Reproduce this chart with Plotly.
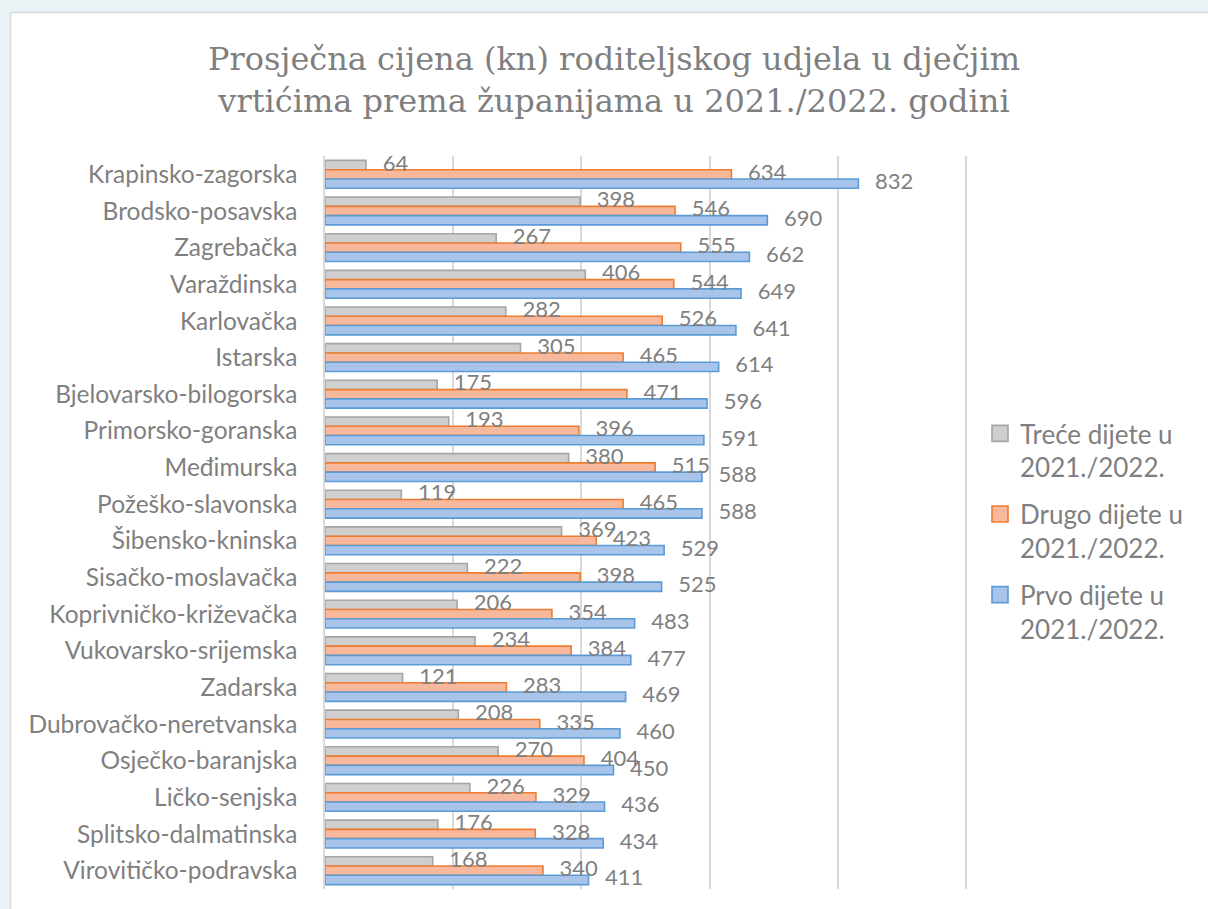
import plotly.graph_objects as go

categories = [
    "Krapinsko-zagorska", "Brodsko-posavska", "Zagrebačka", "Varaždinska",
    "Karlovačka", "Istarska", "Bjelovarsko-bilogorska", "Primorsko-goranska",
    "Međimurska", "Požeško-slavonska", "Šibensko-kninska", "Sisačko-moslavačka",
    "Koprivničko-križevačka", "Vukovarsko-srijemska", "Zadarska",
    "Dubrovačko-neretvanska", "Osječko-baranjska", "Ličko-senjska",
    "Splitsko-dalmatinska", "Virovitičko-podravska",
]
prvo = [832, 690, 662, 649, 641, 614, 596, 591, 588, 588, 529, 525, 483, 477, 469, 460, 450, 436, 434, 411]
drugo = [634, 546, 555, 544, 526, 465, 471, 396, 515, 465, 423, 398, 354, 384, 283, 335, 404, 329, 328, 340]
trece = [64, 398, 267, 406, 282, 305, 175, 193, 380, 119, 369, 222, 206, 234, 121, 208, 270, 226, 176, 168]

series_names = ["Treće dijete u<br>2021./2022.", "Drugo dijete u<br>2021./2022.", "Prvo dijete u<br>2021./2022."]
title_text = "Prosječna cijena (kn) roditeljskog udjela u dječjim<br>vrtićima prema županijama u 2021./2022. godini"
grid_ticks = [200, 400, 600, 800, 1000]

W, H = 1208, 909
L, R, T, B = 325, 968, 156, 889
XMAX = 1003
TXT = "#7F7F7F"
FONT = "Lato"
BARGAP = 0.24

def px(x):
    return (x - L) / (R - L)

def py(y):
    return (B - y) / (B - T)

styles = [
    ("#CFCFCF", "#A5A5A5"),
    ("#F7B89C", "#ED7D31"),
    ("#A8C4EA", "#5B9BD5"),
]

pos = list(range(len(categories)))
bw = (1 - BARGAP) / 3

fig = go.Figure()
all_series = [trece, drugo, prvo]
for k, (name, vals, (fill, line)) in enumerate(zip(series_names, all_series, styles)):
    fig.add_trace(go.Bar(
        y=pos, x=vals, orientation="h", name=name, legendgroup=str(k),
        marker=dict(color=fill, line=dict(color=line, width=1.6)),
        showlegend=False, hoverinfo="skip",
    ))
for k, (name, vals, (fill, line)) in enumerate(zip(series_names, all_series, styles)):
    fig.add_trace(go.Scatter(
        x=[None], y=[None], mode="markers", name=name, legendgroup=str(k),
        marker=dict(symbol="square", size=16, color=fill, line=dict(color=line, width=1.6)),
        showlegend=True,
    ))
# data labels drawn above all bars
for k, vals in enumerate(all_series):
    off = (k - 1) * bw
    fig.add_trace(go.Scatter(
        x=vals, y=[p + off for p in pos], mode="text",
        text=["\u00a0\u2002" + str(v) for v in vals], textposition="middle right",
        textfont=dict(family=FONT, size=22, color=TXT),
        cliponaxis=False, showlegend=False, hoverinfo="skip",
    ))

shapes = [
    dict(type="rect", xref="paper", yref="paper", x0=px(0), x1=px(10), y0=py(H), y1=py(0),
         fillcolor="#EAF3F5", line=dict(width=0), layer="above"),
    dict(type="rect", xref="paper", yref="paper", x0=px(0), x1=px(W), y0=py(12), y1=py(0),
         fillcolor="#EAF3F5", line=dict(width=0), layer="above"),
    dict(type="line", xref="paper", yref="paper", x0=px(10.5), x1=px(10.5), y0=py(12), y1=py(H),
         line=dict(color="#D9D9D9", width=1.5), layer="above"),
    dict(type="line", xref="paper", yref="paper", x0=px(10), x1=px(W), y0=py(12.5), y1=py(12.5),
         line=dict(color="#D9D9D9", width=1.5), layer="above"),
]

fig.update_layout(
    width=W, height=H,
    margin=dict(l=L, r=W - R, t=T, b=H - B, pad=0),
    paper_bgcolor="white", plot_bgcolor="white",
    barmode="group", bargap=BARGAP, bargroupgap=0,
    title=dict(text=title_text, x=614 / W, xanchor="center", xref="container",
               y=1 - 70 / H, yanchor="middle", yref="container",
               font=dict(family="DejaVu Serif", size=32, color=TXT)),
    xaxis=dict(range=[0, XMAX], tickvals=grid_ticks, showticklabels=False,
               showgrid=True, gridcolor="#D9D9D9", gridwidth=1.5, zeroline=False,
               showline=False, fixedrange=True),
    yaxis=dict(range=[len(categories) - 0.5, -0.5], tickvals=pos, ticktext=categories,
               showline=True, linecolor="#D9D9D9", linewidth=1.5,
               ticks="", ticklabelstandoff=21, showgrid=False, zeroline=False,
               tickfont=dict(family=FONT, size=24.5, color=TXT), fixedrange=True),
    legend=dict(x=px(980), xanchor="left", y=py(531), yanchor="middle", valign="top",
                font=dict(family=FONT, size=26, color=TXT), bgcolor="rgba(0,0,0,0)",
                traceorder="grouped", tracegroupgap=10),
    shapes=shapes,
    showlegend=True,
)

fig.write_html(
    "out.html",
    config={"displayModeBar": False},
    post_script="document.body.style.margin='0';document.body.style.background='#EAF3F5';",
)
